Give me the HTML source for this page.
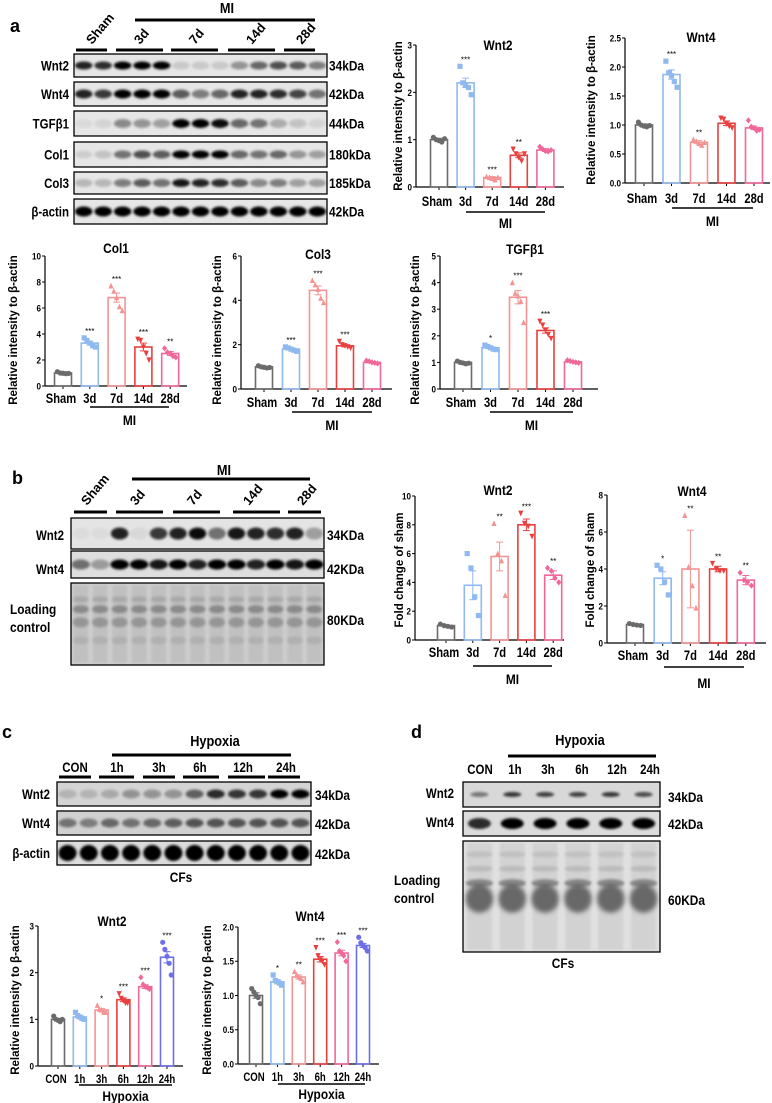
<!DOCTYPE html>
<html><head><meta charset="utf-8">
<style>
html,body{margin:0;padding:0;background:#fff;}
svg{display:block;font-family:"Liberation Sans",Arial,sans-serif;font-weight:bold;}
</style></head>
<body>
<svg id="fig" width="772" height="1103" viewBox="0 0 772 1103" xmlns="http://www.w3.org/2000/svg">
<defs>
<filter id="blur" x="-50%" y="-50%" width="200%" height="200%"><feGaussianBlur stdDeviation="1.3"/></filter>
<filter id="blur2" x="-50%" y="-50%" width="200%" height="200%"><feGaussianBlur stdDeviation="2.5"/></filter>
</defs>
<g id="blots"></g>
<g id="charts"></g>
</svg>
<script>
// ---------- chart data ----------
const miCats = ["Sham","3d","7d","14d","28d"];
const hxCats = ["CON","1h","3h","6h","12h","24h"];

const aWnt2Vals = [1.0,2.2,0.2,0.67,0.78];
const aWnt2Err = [0.03,0.1,0.02,0.05,0.03];
const aWnt2Pts = [[1.05,1.0,0.98,0.95,1.02],[2.55,2.2,2.15,2.1,1.95],[0.22,0.2,0.18,0.15,0.2],[0.8,0.7,0.62,0.55,0.7],[0.85,0.8,0.76,0.75,0.78]];
const aWnt2Sig = ["","***","***","**",""];
const aWnt2Ticks = ["0","1","2","3"];

const aWnt4Vals = [1.0,1.87,0.7,1.03,0.95];
const aWnt4Err = [0.02,0.08,0.03,0.04,0.03];
const aWnt4Pts = [[1.05,1,0.98,0.97,0.99],[2.1,1.9,1.85,1.75,1.65],[0.75,0.72,0.68,0.65,0.7],[1.12,1.1,1.02,0.98,0.95],[1.08,0.97,0.95,0.9,0.92]];
const aWnt4Sig = ["","***","**","",""];
const aWnt4Ticks = ["0.0","0.5","1.0","1.5","2.0","2.5"];

const col1Vals = [1,3.3,6.8,3.0,2.5];
const col1Err = [0.03,0.15,0.35,0.3,0.15];
const col1Pts = [[1.1,1,0.98,0.95,0.97],[3.7,3.5,3.3,3.1,3.0],[7.7,7.3,6.8,6.1,5.8],[3.6,3.5,3.0,2.5,2.0],[2.9,2.6,2.5,2.3,2.2]];
const col1Sig = ["","***","***","***","**"];
const col1Ticks = ["0","2","4","6","8","10"];

const col3Vals = [1,1.8,4.45,1.95,1.2];
const col3Err = [0.03,0.04,0.2,0.05,0.03];
const col3Pts = [[1.05,1,0.98,0.95,0.97],[1.9,1.85,1.8,1.75,1.7],[4.9,4.7,4.5,4.1,3.9],[2.15,2.0,1.95,1.9,1.85],[1.28,1.25,1.2,1.18,1.15]];
const col3Sig = ["","***","***","***",""];
const col3Ticks = ["0","2","4","6"];

const tgfVals = [1,1.55,3.45,2.2,1.02];
const tgfErr = [0.02,0.04,0.25,0.1,0.02];
const tgfPts = [[1.05,1,0.98,0.95,0.97],[1.65,1.6,1.55,1.5,1.48],[4.0,3.6,3.5,3.3,2.5],[2.55,2.4,2.2,2.05,1.9],[1.08,1.05,1.02,1.0,0.98]];
const tgfSig = ["","*","***","***",""];
const tgfTicks = ["0","1","2","3","4","5"];

const bWnt2Vals = [1,3.8,5.8,8.0,4.5];
const bWnt2Err = [0.05,1.0,1.0,0.4,0.3];
const bWnt2Pts = [[1.1,1,0.95,0.9],[6.0,5.0,3.0,1.7],[8.1,6.0,5.5,3.1],[8.8,8.1,7.9,7.2],[5.0,4.8,4.3,4.0]];
const bWnt2Sig = ["","","**","***","**"];
const bWnt2Ticks = ["0","2","4","6","8","10"];

const bWnt4Vals = [1,3.5,4.0,4.0,3.4];
const bWnt4Err = [0.03,0.35,2.1,0.15,0.25];
const bWnt4Pts = [[1.05,1,0.97,0.95],[4.2,4.0,3.3,2.6],[6.9,4.1,3.1,1.9],[4.3,4.0,3.9,3.9],[3.8,3.4,3.3,3.1]];
const bWnt4Sig = ["","*","**","**","**"];
const bWnt4Ticks = ["0","2","4","6","8"];

const cWnt2Vals = [1,1.05,1.2,1.42,1.7,2.33];
const cWnt2Err = [0.02,0.03,0.03,0.04,0.04,0.12];
const cWnt2Pts = [[1.07,1.0,0.98,0.95,1.0],[1.15,1.08,1.05,1.02,1.0],[1.3,1.22,1.2,1.15,1.15],[1.55,1.45,1.4,1.35,1.35],[1.9,1.75,1.7,1.68,1.65],[2.65,2.5,2.35,2.2,1.95]];
const cWnt2Sig = ["","","*","***","***","***"];
const cWnt2Ticks = ["0","1","2","3"];

const cWnt4Vals = [1,1.2,1.27,1.53,1.62,1.73];
const cWnt4Err = [0.04,0.03,0.03,0.04,0.04,0.03];
const cWnt4Pts = [[1.1,1.05,1.0,0.97,0.88],[1.3,1.22,1.2,1.18,1.15],[1.35,1.3,1.27,1.25,1.2],[1.7,1.58,1.52,1.5,1.45],[1.78,1.65,1.62,1.58,1.5],[1.85,1.77,1.73,1.7,1.65]];
const cWnt4Sig = ["","*","**","***","***","***"];
const cWnt4Ticks = ["0.0","0.5","1.0","1.5","2.0"];

// blot band intensities
const aBlotWnt2 = [0.85,0.8,1,1,1,0.12,0.12,0.12,0.35,0.55,0.65,0.6,0.45];
const aBlotWnt4 = [0.85,0.75,1,1,1,0.6,0.45,0.55,0.85,0.85,0.8,0.7,0.5];
const aBlotTgf = [0.05,0.08,0.4,0.35,0.3,1,1,0.95,0.55,0.5,0.25,0.15,0.08];
const aBlotCol1 = [0.1,0.15,0.5,0.65,0.6,1,1,1,0.55,0.5,0.55,0.35,0.3];
const aBlotCol3 = [0.2,0.2,0.45,0.6,0.5,0.9,0.85,0.8,0.6,0.4,0.45,0.3,0.3];
const aBlotAct = [1,1,1,1,1,1,1,1,1,1,1,1,1];
const bBlotWnt2 = [0.03,0.03,0.85,0.05,0.75,0.85,0.95,0.5,0.9,0.85,0.8,0.85,0.3];
const bBlotWnt4 = [0.5,0.3,1,1,0.9,1,0.85,1,1,0.85,1,0.9,1];
const cBlotWnt2 = [0.15,0.15,0.2,0.3,0.3,0.3,0.55,0.8,0.75,0.75,1,1];
const cBlotWnt4 = [0.45,0.4,0.5,0.45,0.5,0.55,0.6,0.6,0.6,0.6,0.6,0.6];
const cBlotAct = [1,1,1,1,1,1,1,1,1,1,1,1];
const dBlotWnt2 = [0.45,0.75,0.7,0.7,0.75,0.65];
const dBlotWnt4 = [0.8,1,1,1,1,1];

const miColors = ["#6b6b6b","#8fb9ef","#f39494","#e8403f","#f0689a"];
const hxColors = ["#6b6b6b","#8fb9ef","#f39494","#e8403f","#f0689a","#6d6fe8"];

const NS = "http://www.w3.org/2000/svg";
function mk(parent, tag, attrs, txt){
  const e = document.createElementNS(NS, tag);
  for (const k in attrs) e.setAttribute(k, attrs[k]);
  if (txt !== undefined) e.textContent = txt;
  parent.appendChild(e);
  return e;
}
function sx(x, f){ return `translate(${x} 0) scale(${f} 1) translate(${-x} 0)`; }
function marker(g, shape, x, y, c){
  const s = 2.6;
  let e;
  if (shape === 0) e = mk(g,"circle",{cx:x,cy:y,r:s,fill:c});
  else if (shape === 1) e = mk(g,"rect",{x:x-s,y:y-s,width:2*s,height:2*s,fill:c});
  else if (shape === 2) e = mk(g,"polygon",{points:`${x},${y-s-0.5} ${x+s},${y+s} ${x-s},${y+s}`,fill:c});
  else if (shape === 3) e = mk(g,"polygon",{points:`${x},${y+s+0.5} ${x+s},${y-s} ${x-s},${y-s}`,fill:c});
  else e = mk(g,"polygon",{points:`${x},${y-s-0.5} ${x+s},${y} ${x},${y+s+0.5} ${x-s},${y}`,fill:c});
  
  
}

function chart(name, L, cats, vals, errs, pts, sig, ticks, colors, title, ylab, grp){
  const root = document.getElementById("charts");
  const g = mk(root,"g",{});
  
  
  const tmax = parseFloat(ticks[ticks.length-1]);
  const y = v => L.base - (v / tmax) * (L.base - L.top);
  const x = i => L.first + i * L.step;
  const bw = L.bw;
  const ya = mk(g,"line",{x1:L.x0,y1:L.top,x2:L.x0,y2:L.base,stroke:"#000","stroke-width":1.2});
  
  
  const xa = mk(g,"line",{x1:L.x0,y1:L.base,x2:L.right,y2:L.base,stroke:"#000","stroke-width":1.2});
  
  
  ticks.forEach(t => {
    const ty = y(parseFloat(t));
    mk(g,"line",{x1:L.x0-3,y1:ty,x2:L.x0,y2:ty,stroke:"#000","stroke-width":1});
    const tl = mk(g,"text",{x:L.x0-4,y:ty+3.5,"font-size":9.5,"text-anchor":"end",transform:sx(L.x0-4,0.85)},t);
    
    
  });
  cats.forEach((c,i) => {
    const cx = x(i), col = colors[i];
    mk(g,"line",{x1:cx,y1:L.base,x2:cx,y2:L.base+3,stroke:"#000","stroke-width":1});
    const b = mk(g,"rect",{x:cx-bw/2,y:y(vals[i]),width:bw,height:L.base-y(vals[i]),fill:"none",stroke:col,"stroke-width":1.6});
    
    
    const e1 = y(vals[i]+errs[i]), e2 = y(vals[i]-errs[i]);
    mk(g,"line",{x1:cx,y1:e1,x2:cx,y2:e2,stroke:col,"stroke-width":1});
    mk(g,"line",{x1:cx-3.5,y1:e1,x2:cx+3.5,y2:e1,stroke:col,"stroke-width":1});
    mk(g,"line",{x1:cx-3.5,y1:e2,x2:cx+3.5,y2:e2,stroke:col,"stroke-width":1});
    const n = pts[i].length;
    pts[i].forEach((p,j) => {
      const off = (j - (n-1)/2) * (bw*0.55/(n-1)) * 2 * 0.6;
      marker(g, i % 5, cx + off, y(p), col);
    });
    if (sig[i]) {
      const top = Math.max(...pts[i], vals[i]+errs[i]);
      const s = mk(g,"text",{x:cx,y:y(top)-4,"font-size":8,"text-anchor":"middle","font-weight":"normal"},sig[i]);
      
      
    }
    const lx = cx + (i===0 ? -2 : 0);
    const xl = mk(g,"text",{x:lx,y:L.lab,"font-size":L.fs,"text-anchor":"middle",transform:sx(lx,0.8)},c);
    
    
  });
  const gl = mk(g,"line",{x1:L.g1,y1:L.gy,x2:L.g2,y2:L.gy,stroke:"#000","stroke-width":1.5});
  
  
  const gcx = (L.g1+L.g2)/2;
  const gt = mk(g,"text",{x:gcx,y:L.gty,"font-size":14,"text-anchor":"middle",transform:sx(gcx,0.85)},grp);
  
  
  const tt = mk(g,"text",{x:L.tx,y:L.ty,"font-size":14,"text-anchor":"middle",transform:sx(L.tx,0.85)},title);
  
  
  const yc = L.ylc;
  const yl = mk(g,"text",{x:L.ylx,y:yc,"font-size":11.5,"text-anchor":"middle",transform:`rotate(-90 ${L.ylx} ${yc})`},ylab);
  
  
}

const RI = "Relative intensity to β-actin";
chart("chart-a-wnt2",{x0:416,right:564,base:187,top:45,first:439,step:26.6,bw:17,lab:206,fs:14,g1:466,g2:545,gy:212,gty:228,tx:498,ty:50,ylx:402,ylc:116},miCats,aWnt2Vals,aWnt2Err,aWnt2Pts,aWnt2Sig,aWnt2Ticks,miColors,"Wnt2",RI,"MI");
chart("chart-a-wnt4",{x0:625,right:770,base:183,top:38,first:644,step:27.5,bw:17,lab:203,fs:14,g1:672,g2:753,gy:208,gty:226,tx:701,ty:42,ylx:595,ylc:110},miCats,aWnt4Vals,aWnt4Err,aWnt4Pts,aWnt4Sig,aWnt4Ticks,miColors,"Wnt4",RI,"MI");
chart("chart-a-col1",{x0:45,right:187,base:386,top:256,first:63,step:26.8,bw:17,lab:403,fs:14,g1:90,g2:169,gy:407,gty:425,tx:116,ty:253,ylx:17,ylc:330},miCats,col1Vals,col1Err,col1Pts,col1Sig,col1Ticks,miColors,"Col1",RI,"MI");
chart("chart-a-col3",{x0:241,right:392,base:389,top:256,first:264,step:27,bw:17,lab:407,fs:14,g1:292,g2:372,gy:412,gty:430,tx:318,ty:259,ylx:221,ylc:330},miCats,col3Vals,col3Err,col3Pts,col3Sig,col3Ticks,miColors,"Col3",RI,"MI");
chart("chart-a-tgfb1",{x0:440,right:598,base:389,top:256,first:463,step:27.5,bw:17,lab:407,fs:14,g1:490,g2:573,gy:412,gty:430,tx:525,ty:254,ylx:419,ylc:330},miCats,tgfVals,tgfErr,tgfPts,tgfSig,tgfTicks,miColors,"TGFβ1",RI,"MI");
chart("chart-b-wnt2",{x0:415,right:564,base:640,top:496,first:446,step:26.8,bw:17,lab:657,fs:14,g1:473,g2:552,gy:666,gty:684,tx:498,ty:495,ylx:403,ylc:570},miCats,bWnt2Vals,bWnt2Err,bWnt2Pts,bWnt2Sig,bWnt2Ticks,miColors,"Wnt2","Fold change of sham","MI");
chart("chart-b-wnt4",{x0:607,right:766,base:643,top:495,first:635,step:27.7,bw:17,lab:660,fs:14,g1:664,g2:744,gy:667,gty:688,tx:692,ty:496,ylx:594,ylc:570},miCats,bWnt4Vals,bWnt4Err,bWnt4Pts,bWnt4Sig,bWnt4Ticks,miColors,"Wnt4","Fold change of sham","MI");
chart("chart-c-wnt2",{x0:38,right:183,base:1066,top:926,first:58,step:21.8,bw:13,lab:1083,fs:12,g1:79,g2:172,gy:1085,gty:1101,tx:112,ty:926,ylx:19,ylc:1000},hxCats,cWnt2Vals,cWnt2Err,cWnt2Pts,cWnt2Sig,cWnt2Ticks,hxColors,"Wnt2",RI,"Hypoxia");
chart("chart-c-wnt4",{x0:238,right:379,base:1064,top:927,first:256,step:21.4,bw:13,lab:1081,fs:12,g1:278,g2:365,gy:1084,gty:1099,tx:310,ty:921,ylx:211,ylc:1000},hxCats,cWnt4Vals,cWnt4Err,cWnt4Pts,cWnt4Sig,cWnt4Ticks,hxColors,"Wnt4",RI,"Hypoxia");

// ---------- blots ----------
const BR = document.getElementById("blots");
function txt(x,y,s,size,anchor,name,extra){
  const t = mk(BR,"text",Object.assign({x:x,y:y,"font-size":size,"text-anchor":anchor||"start"},extra||{}),s);
  
  
  return t;
}
function blotRow(name,x,y,w,h,intens,bg,bandH,bandWf){
  const g = mk(BR,"g",{});
  
  
  mk(g,"rect",{x:x,y:y,width:w,height:h,fill:bg});
  const n = intens.length, lw = w/n;
  intens.forEach((v,i) => {
    const b = mk(g,"ellipse",{cx:x+lw*(i+0.5),cy:y+h/2,rx:lw*bandWf/2,ry:bandH/2,fill:"#000",opacity:v,filter:"url(#blur)"});
    
    
  });
  mk(g,"rect",{x:x,y:y,width:w,height:h,fill:"none",stroke:"#000","stroke-width":1.3});
}
function loading(name,x,y,w,h,n,bg,bands,blob){
  const g = mk(BR,"g",{});
  
  
  mk(g,"rect",{x:x,y:y,width:w,height:h,fill:bg});
  const lw = w/n;
  for (let i=0;i<n;i++){
    const cx = x+lw*(i+0.5);
    mk(g,"rect",{x:cx-lw*0.38,y:y+2,width:lw*0.76,height:h-4,fill:"#000",opacity:0.06,filter:"url(#blur)"});
    bands.forEach(b => mk(g,"ellipse",{cx:cx,cy:y+b[0]*h,rx:lw*0.42,ry:b[1],fill:"#000",opacity:b[2],filter:"url(#blur)"}));
    if (blob) mk(g,"ellipse",{cx:cx,cy:y+blob[0]*h,rx:lw*0.42,ry:blob[1],fill:"#444",opacity:0.75,filter:"url(#blur2)"});
  }
  mk(g,"rect",{x:x,y:y,width:w,height:h,fill:"none",stroke:"#000","stroke-width":1.3});
}
function line(x1,y1,x2,y2,w,name){
  const l = mk(BR,"line",{x1:x1,y1:y1,x2:x2,y2:y2,stroke:"#000","stroke-width":w});
  
  
}

// panel a
txt(10,32,"a",18,"start","panel-label-a");
txt(227,13,"MI",15,"middle","mi-label",{transform:sx(227,0.85)});
line(135,20,315,20,3,"mi-bracket");
[[76,107,"Sham",92],[116,163,"3d",140],[171,218,"7d",195],[228,275,"14d",252],[284,315,"28d",302]].forEach(a=>{
  line(a[0],50,a[1],50,3,"lane-group-line");
  txt(a[3],45,a[2],13,"start","lane-label",{transform:`rotate(-50 ${a[3]} 45)`});
});
const aRows = [["Wnt2",54,77,aBlotWnt2,"34kDa",8],["Wnt4",82,106,aBlotWnt4,"42kDa",9],["TGFβ1",111,136,aBlotTgf,"44kDa",9],["Col1",142,167,aBlotCol1,"180kDa",8],["Col3",172,194,aBlotCol3,"185kDa",8],["β-actin",199,224,aBlotAct,"42kDa",10]];
aRows.forEach(r=>{
  blotRow("blot-row-"+r[0],74,r[1],253,r[2]-r[1],r[3],"#e6e6e6",r[5],0.9);
  txt(69,(r[1]+r[2])/2+5,r[0],14,"end","row-label",{transform:sx(69,0.82)});
  txt(329,(r[1]+r[2])/2+5,r[4],14,"start","kda-label",{transform:sx(329,0.85)});
});

// panel b
txt(12,484,"b",18,"start","panel-label-b");
txt(224,475,"MI",15,"middle","mi-label",{transform:sx(224,0.85)});
line(132,479,310,479,3,"mi-bracket");
[[74,107,"Sham",87],[116,163,"3d",136],[173,220,"7d",193],[233,280,"14d",249],[288,321,"28d",303]].forEach(a=>{
  line(a[0],512,a[1],512,3,"lane-group-line");
  txt(a[3],506,a[2],13,"start","lane-label",{transform:`rotate(-50 ${a[3]} 506)`});
});
blotRow("blot-b-wnt2",71,518,253,31,bBlotWnt2,"#e4e4e4",12,0.9);
blotRow("blot-b-wnt4",71,551,253,27,bBlotWnt4,"#dedede",10,0.95);
loading("blot-b-loading",71,583,253,82,13,"#cdcdcd",[[0.2,3,0.12],[0.32,4,0.28],[0.48,5,0.22],[0.7,4,0.08]],null);
txt(64,540,"Wnt2",14,"end","row-label",{transform:sx(64,0.82)});
txt(64,574,"Wnt4",14,"end","row-label",{transform:sx(64,0.82)});
txt(10,614,"Loading",14,"start","row-label",{transform:sx(10,0.85)});
txt(10,632,"control",14,"start","row-label",{transform:sx(10,0.85)});
txt(327,540,"34KDa",14,"start","kda-label",{transform:sx(327,0.85)});
txt(327,574,"42KDa",14,"start","kda-label",{transform:sx(327,0.85)});
txt(327,625,"80KDa",14,"start","kda-label",{transform:sx(327,0.85)});

// panel c
txt(2,738,"c",18,"start","panel-label-c");
txt(215,746,"Hypoxia",15,"middle","hypoxia-label",{transform:sx(215,0.85)});
line(112,755,291,755,3,"hypoxia-bracket");
[[59,91,"CON",75],[99,134,"1h",117],[143,175,"3h",159],[183,219,"6h",200],[228,265,"12h",243],[268,300,"24h",286]].forEach(a=>{
  line(a[0],777,a[1],777,3,"lane-group-line");
  txt(a[3],772,a[2],14,"middle","lane-label",{transform:sx(a[3],0.82)});
});
[["Wnt2",782,806,cBlotWnt2,"34kDa",9,"#d4d4d4"],["Wnt4",811,835,cBlotWnt4,"42kDa",9,"#d0d0d0"],["β-actin",841,865,cBlotAct,"42kDa",16,"#dcdcdc"]].forEach(r=>{
  blotRow("blot-c-"+r[0],57,r[1],254,r[2]-r[1],r[3],r[6],r[5],0.85);
  txt(50,(r[1]+r[2])/2+5,r[0],14,"end","row-label",{transform:sx(50,0.82)});
  txt(315,(r[1]+r[2])/2+6,r[4],14,"start","kda-label",{transform:sx(315,0.85)});
});
txt(181,882,"CFs",14,"middle","cells-label",{transform:sx(181,0.85)});

// panel d
txt(411,738,"d",18,"start","panel-label-d");
txt(580,745,"Hypoxia",15,"middle","hypoxia-label",{transform:sx(580,0.85)});
line(508,756,656,756,3,"hypoxia-bracket");
[["CON",480],["1h",515],["3h",548],["6h",582],["12h",617],["24h",650]].forEach(a=>{
  txt(a[1],774,a[0],14,"middle","lane-label",{transform:sx(a[1],0.82)});
});
blotRow("blot-d-wnt2",463,782,197,25,dBlotWnt2,"#d8d8d8",5,0.55);
blotRow("blot-d-wnt4",463,811,197,25,dBlotWnt4,"#dcdcdc",11,0.7);
loading("blot-d-loading",463,841,197,111,6,"#e0e0e0",[[0.12,3,0.08],[0.25,3,0.1],[0.38,4,0.35]],[0.52,14]);
txt(454,798,"Wnt2",14,"end","row-label",{transform:sx(454,0.82)});
txt(454,827,"Wnt4",14,"end","row-label",{transform:sx(454,0.82)});
txt(394,885,"Loading",14,"start","row-label",{transform:sx(394,0.85)});
txt(394,903,"control",14,"start","row-label",{transform:sx(394,0.85)});
txt(668,802,"34kDa",14,"start","kda-label",{transform:sx(668,0.85)});
txt(668,829,"42kDa",14,"start","kda-label",{transform:sx(668,0.85)});
txt(668,905,"60KDa",14,"start","kda-label",{transform:sx(668,0.85)});
txt(563,968,"CFs",14,"middle","cells-label",{transform:sx(563,0.85)});
</script>
</body></html>
